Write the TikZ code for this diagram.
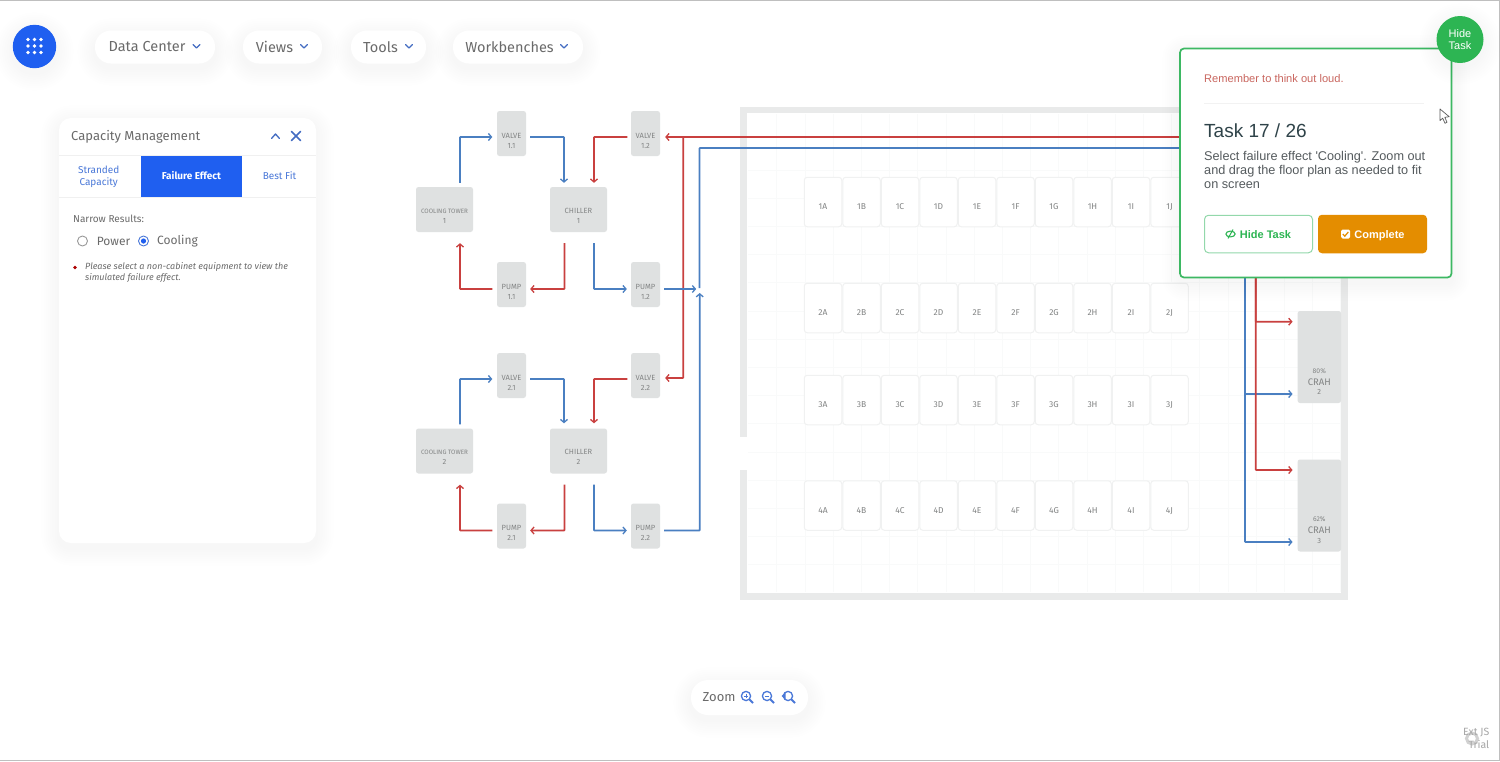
\documentclass[tikz,border=0pt]{standalone}
\usepackage{fontspec}
\setmainfont{Fira Sans}
\newfontfamily\arialf{Liberation Sans}
\usetikzlibrary{arrows.meta,calc}
\definecolor{flowblue}{HTML}{4A7FC1}
\definecolor{flowred}{HTML}{C9403F}
\definecolor{eqfill}{HTML}{DFE1E1}
\definecolor{eqtext}{HTML}{828484}
\definecolor{wallc}{HTML}{E9EAEA}
\definecolor{gridc}{HTML}{F9FAFA}
\definecolor{cabedge}{HTML}{F0F1F1}
\definecolor{uiblue}{HTML}{1F5FF0}
\definecolor{linkblue}{HTML}{4A78D8}
\definecolor{uitext}{HTML}{6A6A6A}
\definecolor{taskgreen}{HTML}{3DB863}
\definecolor{circgreen}{HTML}{2DB553}
\definecolor{lightgreen}{HTML}{93D8AB}
\definecolor{orangebtn}{HTML}{E48D00}
\definecolor{headc}{HTML}{2F4349}
\definecolor{bodyc}{HTML}{555B5E}
\definecolor{remc}{HTML}{C9665F}
\definecolor{markc}{HTML}{A6A6A6}
\newcommand{\softsh}[5]{%
  \foreach \g in {1,...,8}{%
    \pgfmathsetmacro{\gg}{\g*2.2}
    \fill[black,opacity=.005,rounded corners=#5+\gg]
      (#1-\gg,#2-\gg+5) rectangle (#3+\gg,#4+\gg+5);}}
\newcommand{\eqlbl}[3]{\raisebox{#1}[0pt][0pt]{\begin{tabular}{@{}c@{}}#2\\[1.5pt]#3\end{tabular}}}
\newcommand{\dnchev}[2]{\draw[chevron] (#1-3.5,#2-2) -- (#1,#2+1.5) -- (#1+3.5,#2-2);}
\newcommand{\magn}[2]{%
  \draw[icon] (#1-1,#2-1) circle[radius=4.6];
  \draw[icon,line width=1.8pt] (#1+2.5,#2+2.5) -- (#1+6,#2+6);}
\begin{document}
\begin{tikzpicture}[x=1pt,y=-1pt,
  eqbox/.style={fill=eqfill,rounded corners=2.5pt,inner sep=0pt,text=eqtext,font=\fontsize{7.5}{8.5}\selectfont},
  eqsmall/.style={eqbox,minimum width=29pt,minimum height=45pt},
  eqwide/.style={eqbox,minimum width=57pt,minimum height=45pt},
  eqcrah/.style={eqbox,minimum width=43.5pt,minimum height=92pt},
  cab/.style={draw=cabedge,line width=1pt,fill=white,rounded corners=3pt,inner sep=0pt,
    minimum width=37.5pt,minimum height=49.5pt,text=eqtext,font=\fontsize{8.5}{9}\selectfont},
  flow/.style={line width=1.8pt,rounded corners=.6pt,-{Straight Barb[length=3pt,width=7pt,line width=1.3pt]}},
  flowplain/.style={line width=1.8pt,rounded corners=.6pt},
  bf/.style={flow,draw=flowblue},
  rf/.style={flow,draw=flowred},
  bl/.style={flowplain,draw=flowblue},
  rl/.style={flowplain,draw=flowred},
  pill/.style={fill=white,rounded corners=16pt,minimum height=33pt,inner sep=0pt,text=uitext,font=\fontsize{14.5}{16}\selectfont},
  chevron/.style={draw=linkblue!90!black,line width=1.3pt,line cap=round,line join=round},
  icon/.style={draw=linkblue,line width=1.3pt},
  txt/.style={inner sep=0pt,anchor=west,text=uitext},
  tab/.style={inner sep=0pt,text=linkblue,font=\fontsize{10}{12}\selectfont,align=center},
]
\path[use as bounding box] (0,0) rectangle (1500,761);
\fill[white] (0,0) rectangle (1500,761);
\draw[draw=black!25,line width=1pt] (0,.3) -- (1499.4,.3) -- (1499.4,760.2) -- (0,760.2);

% floor plan
\foreach \k in {0,...,20}{\draw[gridc,line width=.8pt] (776.7+28.2*\k,114) -- (776.7+28.2*\k,592);}
\foreach \k in {0,...,15}{\draw[gridc,line width=.8pt] (748,170+28.2*\k) -- (1340,170+28.2*\k);}
\draw[wallc,line width=6.5pt] (743.5,110.2) rectangle (1344.5,596.6);
\fill[white] (739,437) rectangle (748,470);

% cabinets
\foreach \r/\yy in {1/202,2/308,3/400,4/505.5}{
  \foreach \c [count=\i from 0] in {A,B,C,D,E,F,G,H,I,J}{
    \node[cab] (cab\r\c) at (823+38.5*\i,\yy) {\raisebox{-7.5pt}[0pt][0pt]{\r\c}};
  }
}

% equipment
\node[eqsmall] (v11) at (511.5,133.5) {\eqlbl{-9.7pt}{VALVE}{1.1}};
\node[eqsmall] (v12) at (645.5,133.5) {\eqlbl{-9.7pt}{VALVE}{1.2}};
\node[eqwide]  (t1)  at (444.5,209.5) {\eqlbl{-8.7pt}{\fontsize{6.3}{8}\selectfont COOLING TOWER}{1}};
\node[eqwide]  (c1)  at (578.5,209.5) {\eqlbl{-8.7pt}{CHILLER}{1}};
\node[eqsmall] (p11) at (511.5,284.5) {\eqlbl{-9.7pt}{PUMP}{1.1}};
\node[eqsmall] (p12) at (645.5,284.5) {\eqlbl{-9.7pt}{PUMP}{1.2}};
\node[eqsmall] (v21) at (511.5,375.5) {\eqlbl{-9.7pt}{VALVE}{2.1}};
\node[eqsmall] (v22) at (645.5,375.5) {\eqlbl{-9.7pt}{VALVE}{2.2}};
\node[eqwide]  (t2)  at (444.5,451) {\eqlbl{-8.7pt}{\fontsize{6.3}{8}\selectfont COOLING TOWER}{2}};
\node[eqwide]  (c2)  at (578.5,451) {\eqlbl{-8.7pt}{CHILLER}{2}};
\node[eqsmall] (p21) at (511.5,526) {\eqlbl{-9.7pt}{PUMP}{2.1}};
\node[eqsmall] (p22) at (645.5,526) {\eqlbl{-9.7pt}{PUMP}{2.2}};
\node[eqcrah] (crah2) at (1319.3,357) {\raisebox{-27pt}[0pt][0pt]{\begin{tabular}{@{}c@{}}{\fontsize{6.8}{8}\selectfont 80\%}\\[2.5pt]{\fontsize{9.5}{9}\selectfont CRAH}\\[1pt]2\end{tabular}}};
\node[eqcrah] (crah3) at (1319.3,505.5) {\raisebox{-27pt}[0pt][0pt]{\begin{tabular}{@{}c@{}}{\fontsize{6.8}{8}\selectfont 62\%}\\[2.5pt]{\fontsize{9.5}{9}\selectfont CRAH}\\[1pt]3\end{tabular}}};

% cooling loop 1
\draw[bf] ([shift={(15.5,-4)}]t1.north) |- ([shift={(-4.5,3.5)}]v11.west);
\draw[bf] ([shift={(4,3.5)}]v11.east) -| ([shift={(-14.5,-4)}]c1.north);
\draw[rf] ([shift={(-3.5,3.5)}]v12.west) -| ([shift={(15.5,-4)}]c1.north);
\draw[rf] ([shift={(-14,11)}]c1.south) |- ([shift={(4,4.5)}]p11.east);
\draw[rf] ([shift={(-4.5,4.5)}]p11.west) -| ([shift={(15.5,11)}]t1.south);
\draw[bf] ([shift={(15.5,11)}]c1.south) |- ([shift={(-4,4.5)}]p12.west);
% cooling loop 2
\draw[bf] ([shift={(15.5,-4)}]t2.north) |- ([shift={(-4.5,3.5)}]v21.west);
\draw[bf] ([shift={(4,3.5)}]v21.east) -| ([shift={(-14.5,-5)}]c2.north);
\draw[rf] ([shift={(-3.5,3.5)}]v22.west) -| ([shift={(15.5,-5)}]c2.north);
\draw[rf] ([shift={(-14,11)}]c2.south) |- ([shift={(4,4.5)}]p21.east);
\draw[rf] ([shift={(-4.5,4.5)}]p21.west) -| ([shift={(15.5,11)}]t2.south);
\draw[bf] ([shift={(15.5,11)}]c2.south) |- ([shift={(-4,4.5)}]p22.west);

% mains
\coordinate (bluetop) at (1245,148);
\coordinate (redtop) at (1255.7,137);
\draw[rf] (redtop) -- ([shift={(5,3.5)}]v12.east);
\draw[rf] ([shift={(23,3.5)}]v12.east) -- ([shift={(23,2.5)}]v22.east) -- ([shift={(5,2.5)}]v22.east);
\draw[bl] (bluetop) -- (699.5,148) -- (699.5,288);
\draw[bf] ([shift={(4,4.5)}]p12.east) -- ([shift={(36,4.5)}]p12.east);
\draw[bf] ([shift={(4,4.5)}]p22.east) -- ([shift={(39.5,4.5)}]p22.east) -- ([shift={(39.5,-233)}]p22.east);
\draw[bf] (bluetop) |- ([shift={(-4.8,37)}]crah2.west);
\draw[bf] (bluetop) |- ([shift={(-4.8,36.5)}]crah3.west);
\draw[rf] (redtop) |- ([shift={(-4.8,-35.3)}]crah2.west);
\draw[rf] (redtop) |- ([shift={(-4.8,-35.5)}]crah3.west);

% top bar
\softsh{13}{25}{56}{68}{21}
\fill[uiblue] (34.5,46.5) circle[radius=21.7];
\foreach \a in {-6.5,0,6.5}{\foreach \b in {-6.5,0,6.5}{\fill[white] (34.5+\a,46+\b) circle[radius=1.8];}}
\softsh{95}{31}{215}{63}{16}
\softsh{243}{31}{322}{63}{16}
\softsh{351}{31}{426}{63}{16}
\softsh{453}{31}{583}{63}{16}
\node[pill,minimum width=120pt] (dc) at (155,47) {Data Center\hspace{16pt}\mbox{}};
\node[pill,minimum width=79pt] (views) at (282.5,47) {Views\hspace{16pt}\mbox{}};
\node[pill,minimum width=75pt] (tools) at (388.5,47) {Tools\hspace{16pt}\mbox{}};
\node[pill,minimum width=130pt] (wb) at (518,47) {Workbenches\hspace{17pt}\mbox{}};
\dnchev{196.5}{46.5}
\dnchev{304}{46.5}
\dnchev{409}{46.5}
\dnchev{564}{46.5}

% capacity panel
\softsh{59}{118}{316}{543}{12}
\fill[white,rounded corners=12pt] (59,118) rectangle (316,543);
\draw[black!6,line width=.8pt] (59,155.5) -- (316,155.5);
\draw[black!6,line width=.8pt] (59,197) -- (316,197);
\fill[uiblue] (140.7,156) rectangle (242.3,196.7);
\node[txt,font=\fontsize{13}{15}\selectfont] (cmtitle) at (71,136.5) {Capacity Management};
\draw[chevron] (271.5,138.5) -- (275.5,134) -- (279.5,138.5);
\draw[chevron,line width=1.5pt] (291.5,131.5) -- (300.5,140.5) (300.5,131.5) -- (291.5,140.5);
\node[tab] (tabsc) at (98.7,176.5) {Stranded\\Capacity};
\node[tab,text=white,font=\fontsize{10}{12}\selectfont\bfseries] (tabfe) at (191.5,176) {Failure Effect};
\node[tab] (tabbf) at (279.5,176) {Best Fit};
\node[txt,font=\fontsize{10}{12}\selectfont] (narrow) at (73,218.5) {Narrow Results:};
\draw[black!40,line width=.9pt,fill=white] (82.5,241) circle[radius=5];
\node[txt,font=\fontsize{12}{14}\selectfont] (rpower) at (96.6,241) {Power};
\draw[linkblue,line width=.9pt,fill=white] (143.5,241) circle[radius=5];
\fill[uiblue] (143.5,241) circle[radius=2.6];
\node[txt,font=\fontsize{12}{14}\selectfont] (rcool) at (157,241) {Cooling};
\fill[black!20!red!85!black] (75,267.5) circle[radius=1.9];
\node[txt,font=\fontsize{9}{10.5}\selectfont\itshape,align=left] (hint) at (85,272.5) {Please select a non-cabinet equipment to view the\\simulated failure effect.};

% zoom pill
\softsh{691}{680}{808}{715}{17}
\node[pill,minimum width=117pt,minimum height=35pt,rounded corners=17pt] (zoompill) at (749.5,697.5) {};
\node[txt,font=\fontsize{13}{15}\selectfont] (zoomt) at (702.5,697.5) {Zoom};
\magn{747}{697}
\draw[linkblue,line width=1pt] (743.8,696) -- (748.2,696) (746,693.8) -- (746,698.2);
\magn{768}{697}
\draw[linkblue,line width=1pt] (764.8,696) -- (769.2,696);
\magn{789}{697}
\fill[linkblue] (781.5,696) -- (785.5,692.5) -- (785.5,699.5) -- cycle;

% watermark
\draw[black!18,line width=3pt] (1472,738.5) circle[radius=5.5];
\node[inner sep=0pt,anchor=east,text=markc,align=right,font=\fontsize{10.5}{12.5}\selectfont] (extjs) at (1489.5,738.5) {Ext JS\\Trial};

% task panel
\softsh{1180}{48}{1452}{278}{5}
\draw[taskgreen,line width=1.7pt,fill=white,rounded corners=4pt] (1180,48.5) rectangle (1451.5,277.5);
\softsh{1437}{16}{1483}{62}{23}
\node[circle,fill=circgreen,minimum size=47pt,inner sep=0pt,text=white,align=center,font=\arialf\fontsize{11}{12.5}\selectfont] (hidebtn) at (1460,39.5) {Hide\\Task};
\node[txt,text=remc,font=\arialf\fontsize{11.1}{12}\selectfont] (rem) at (1204,78.5) {Remember to think out loud.};
\draw[black!5,line width=.8pt] (1204,103) -- (1424,103);
\node[txt,text=headc,font=\arialf\fontsize{19}{21}\selectfont] (taskn) at (1204,130.5) {Task 17 / 26};
\node[txt,text=bodyc,align=left,font=\arialf\fontsize{12.7}{14}\selectfont] (taskd) at (1204,169.5) {Select failure effect 'Cooling'. Zoom out\\and drag the floor plan as needed to fit\\on screen};
\node[draw=lightgreen,line width=1pt,fill=white,rounded corners=4pt,minimum width=108pt,minimum height=37.5pt,inner sep=0pt,text=circgreen,text height=8pt,text depth=0pt,font=\arialf\fontsize{11}{13}\selectfont\bfseries] (hidetask) at (1258.5,234) {\hspace{14pt}Hide Task};
\node[fill=orangebtn,rounded corners=4pt,minimum width=109pt,minimum height=38.5pt,inner sep=0pt,text=white,text height=8pt,text depth=0pt,font=\arialf\fontsize{11}{13}\selectfont\bfseries] (complete) at (1372.5,234) {\hspace{14pt}Complete};
\draw[circgreen,line width=1.1pt] (1230.5,234) ellipse[x radius=4.6,y radius=2.9];
\draw[circgreen,line width=1pt] (1228,238.5) -- (1233,229.5);
\fill[white,rounded corners=1.5pt] (1341,229.5) rectangle (1350,238.5);
\draw[orangebtn,line width=1.2pt] (1342.8,234) -- (1344.8,236.2) -- (1348.3,232);
\draw[black!65,line width=.7pt,fill=white,line join=round] (1440,109) -- (1440,120.5) -- (1442.7,118.2) -- (1445,123.3) -- (1447,122.3) -- (1444.8,117.3) -- (1449.2,116.7) -- cycle;
\end{tikzpicture}
\end{document}
